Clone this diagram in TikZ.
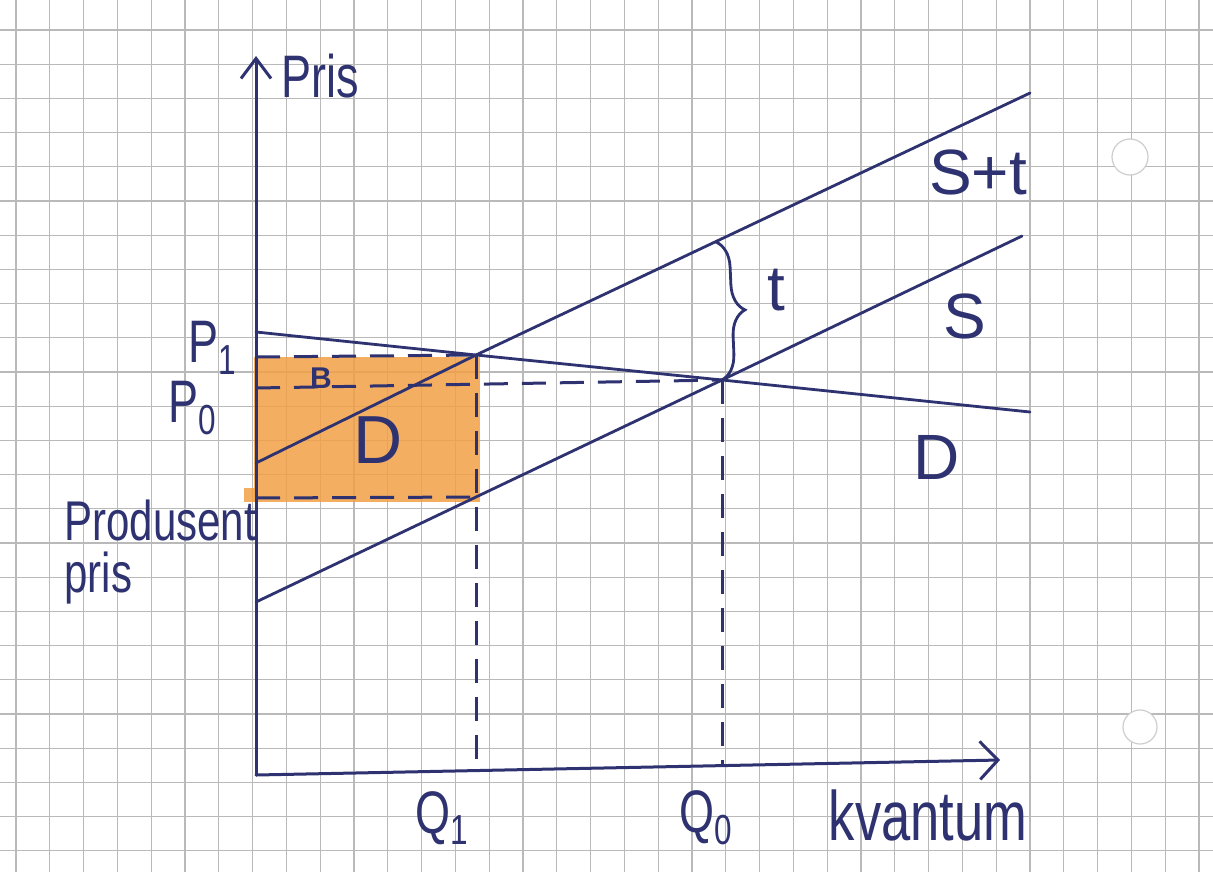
\documentclass[tikz,border=0pt]{standalone}
\usepackage{fontspec}
\setmainfont{Liberation Sans}
\newfontfamily\hand[FakeStretch=0.75]{Liberation Sans}
\usetikzlibrary{arrows.meta,decorations.pathreplacing}
\definecolor{ink}{RGB}{46,50,112}
\definecolor{gridc}{RGB}{185,185,185}
\definecolor{marker}{RGB}{242,160,70}
\tikzset{
  gridline/.style={gridc, line width=0.55pt},
  inkline/.style={ink, line width=1.4pt, line cap=round},
  dashline/.style={ink, line width=1.5pt, dash pattern=on 12pt off 7pt},
  axisline/.style={ink, line width=1.5pt, line cap=round},
  lab/.style={text=ink, inner sep=0pt, font=\hand\fontsize{30}{34}\selectfont},
  widelab/.style={text=ink, inner sep=0pt, font=\fontsize{32}{36}\selectfont},
  biglab/.style={text=ink, inner sep=0pt, font=\fontsize{34}{38}\selectfont},
  smalllab/.style={text=ink, inner sep=0pt, font=\bfseries\fontsize{15}{17}\selectfont},
  hole/.style={draw=gridc!70, fill=white, line width=0.6pt}
}
\begin{document}
\begin{tikzpicture}[x=0.5pt,y=-0.5pt]
\useasboundingbox (0,0) rectangle (1213,872);
\fill[white] (0,0) rectangle (1213,872);
% grid paper
\foreach \k in {0,...,35} \draw[gridline] ({16+33.8*\k},0) -- ({16+33.8*\k},872);
\foreach \k in {0,...,25} \draw[gridline] (0,{30+34.2*\k}) -- (1213,{30+34.2*\k});
% punched holes
\draw[hole] (1130,157) circle[radius=18];
\draw[hole] (1140,727) circle[radius=17];
% coordinates
\coordinate (O) at (256,775);
\coordinate (ytop) at (256,56);
\coordinate (xend) at (1000,760);
\coordinate (Sta) at (256,463);
\coordinate (E1) at (476,355);
\coordinate (Stb) at (1030,93);
\coordinate (Sa) at (256,602);
\coordinate (F) at (476,497);
\coordinate (E0) at (722,380);
\coordinate (Sb) at (1022,236);
\coordinate (Da) at (256,332);
\coordinate (Db) at (1030,412);
\coordinate (T) at (716,242);
\coordinate (P1a) at (256,357);
\coordinate (P0a) at (256,388);
\coordinate (PPa) at (256,498);
\coordinate (Q1b) at (476,770);
\coordinate (Q0b) at (722,765);
% orange area
\fill[marker, opacity=0.85] (254,357) rectangle (480,502);
\fill[marker, opacity=0.85] (244,488) rectangle (256,502);
% dashed guides
\draw[dashline] (P1a) -- (E1);
\draw[dashline] (P0a) -- (E0);
\draw[dashline] (PPa) -- (F);
\draw[dashline] (E1) -- (Q1b);
\draw[dashline] (E0) -- (Q0b);
% axes
\draw[axisline, -{Straight Barb[length=10pt,width=15pt]}] (O) -- (ytop);
\draw[axisline, -{Straight Barb[length=9pt,width=19pt]}] (O) -- (xend);
% curves
\draw[inkline] (Sta) -- (E1) -- (Stb);
\draw[inkline] (Sa) -- (F) -- (E0) -- (Sb);
\draw[inkline] (Da) -- (E1) -- (E0) -- (Db);
% brace t
\draw[inkline, decorate, decoration={brace, amplitude=13pt, aspect=0.5}] (T) -- (E0);
% labels
\node[lab, anchor=west] (pris) at (281,76) {Pris};
\node[widelab] (st) at (978,172) {S+t};
\node[widelab] (s) at (965,316) {S};
\node[widelab] (dr) at (937,457) {D};
\node[biglab] (dm) at (378,440) {D};
\node[smalllab] (b) at (321,378) {B};
\node[widelab] (tl) at (776,290) {t};
\node[lab] (p1) at (213,348) {P\textsubscript{1}};
\node[lab] (p0) at (193,408) {P\textsubscript{0}};
\node[lab, anchor=north west, align=left, font=\hand\fontsize{28}{26}\selectfont] (pp) at (64,500) {Produsent\\pris};
\node[lab] (q1) at (442,818) {Q\textsubscript{1}};
\node[lab] (q0) at (706,818) {Q\textsubscript{0}};
\node[lab, font=\hand\fontsize{35}{38}\selectfont] (kv) at (928,815) {kvantum};
\end{tikzpicture}
\end{document}
